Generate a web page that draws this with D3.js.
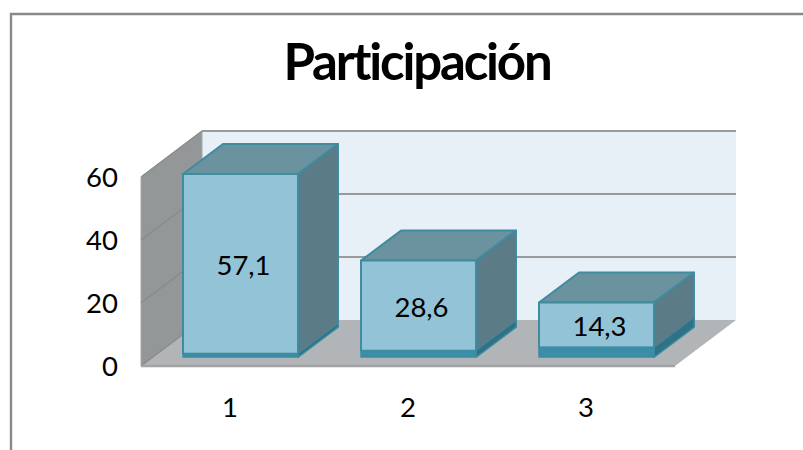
<!DOCTYPE html>
<html><head><meta charset="utf-8">
<script src="https://cdn.jsdelivr.net/npm/d3@7"></script>
<style>html,body{margin:0;padding:0;background:#fff}svg{display:block}text{font-family:Lato,"Open Sans",sans-serif;fill:#000}</style>
</head><body><svg id="c" width="803" height="450"></svg>
<script>
const chartTitle = "Participación";
const categories = ["1","2","3"];
const values = [57.1,28.6,14.3];
const valueLabels = ["57,1","28,6","14,3"];
const baseValues = [1,2,3];
const yTicks = [0,20,40,60];

const svg = d3.select("#c");
const depth = {x:61,y:-46}, barDepth = {x:40,y:-30};
const y = d3.scaleLinear().domain([0,60]).range([366,177]);
const x = d3.scaleBand().domain(categories).range([183,654]).paddingInner(0.354);
const xCat = d3.scaleBand().domain(categories).range([141,675]);
const barLift = 9;
const poly = (pts,fill,stroke,sw) => svg.append("polygon").attr("points",pts.map(p=>p.join(",")).join(" "))
  .attr("fill",fill).attr("stroke",stroke||"none").attr("stroke-width",sw||0).attr("stroke-linejoin","round");

// frame
svg.append("path").attr("d","M11,450V14H803").attr("fill","none").attr("stroke","#898989").attr("stroke-width",2.4);

// walls
const xL=xCat.range()[0], xR=xCat.range()[1], yB=y(0), yT=y(60);
poly([[xL+depth.x,yT+depth.y],[xR+depth.x,yT+depth.y],[xR+depth.x,yB+depth.y],[xL+depth.x,yB+depth.y]],"#e8f0f7");
poly([[xL,yT],[xL+depth.x,yT+depth.y],[xL+depth.x,yB+depth.y],[xL,yB]],"#939798","#a5a7a8",1);
poly([[xL,yB],[xL+depth.x,yB+depth.y],[xR+depth.x,yB+depth.y],[xR,yB]],"#b2b5b8");
// gridlines
yTicks.forEach(t=>{
  const g=y(t);
  svg.append("path").attr("d",`M${xL},${g}L${xL+depth.x},${g+depth.y}`).attr("stroke","#868a8b").attr("stroke-width",1.2).attr("fill","none");
  if(t>0) svg.append("path").attr("d",`M${xL+depth.x},${g+depth.y}H${xR+depth.x}`).attr("stroke","#9a9a9a").attr("stroke-width",2).attr("fill","none");
});
svg.append("path").attr("d",`M${xL},${yB}H${xR}`).attr("stroke","#a3a3a3").attr("stroke-width",2.4).attr("fill","none");

// y axis labels
svg.append("g").selectAll("text").data(yTicks).join("text")
  .attr("x",118).attr("y",d=>y(d)+10).attr("text-anchor","end").attr("font-size",27.5).text(d=>d);

// bars
categories.forEach((c,i)=>{
  const x0=x(c), x1=x0+x.bandwidth(), dx=barDepth.x, dy=barDepth.y;
  const bot=y(0)-barLift;
  const baseTop=bot-(y(0)-y(baseValues[i]));
  const top=baseTop-(y(0)-y(values[i]));
  const s="#3f8ba0";
  poly([[x0,top],[x0+dx,top+dy],[x1+dx,top+dy],[x1,top]],"#6b929f",s,2);
  poly([[x1,top],[x1+dx,top+dy],[x1+dx,bot+dy],[x1,bot]],"#5b7b87",s,2);
  poly([[x1,baseTop],[x1+dx,baseTop+dy],[x1+dx,bot+dy],[x1,bot]],"#2f7286",s,1);
  poly([[x0,top],[x1,top],[x1,baseTop],[x0,baseTop]],"#93c3d6",s,2);
  poly([[x0,baseTop],[x1,baseTop],[x1,bot],[x0,bot]],"#3a8ea8",s,1.5);
  svg.append("text").attr("x",(x0+x1)/2+3).attr("y",(top+baseTop)/2+11).attr("text-anchor","middle").attr("font-size",27.5).text(valueLabels[i]);
  svg.append("text").attr("x",xCat(c)+xCat.bandwidth()/2).attr("y",417).attr("text-anchor","middle").attr("font-size",27.5).text(c);
});

svg.append("text").attr("x",417).attr("y",80).attr("text-anchor","middle").attr("font-size",51).attr("font-weight",700).attr("letter-spacing",-2.2).text(chartTitle);
</script></body></html>
